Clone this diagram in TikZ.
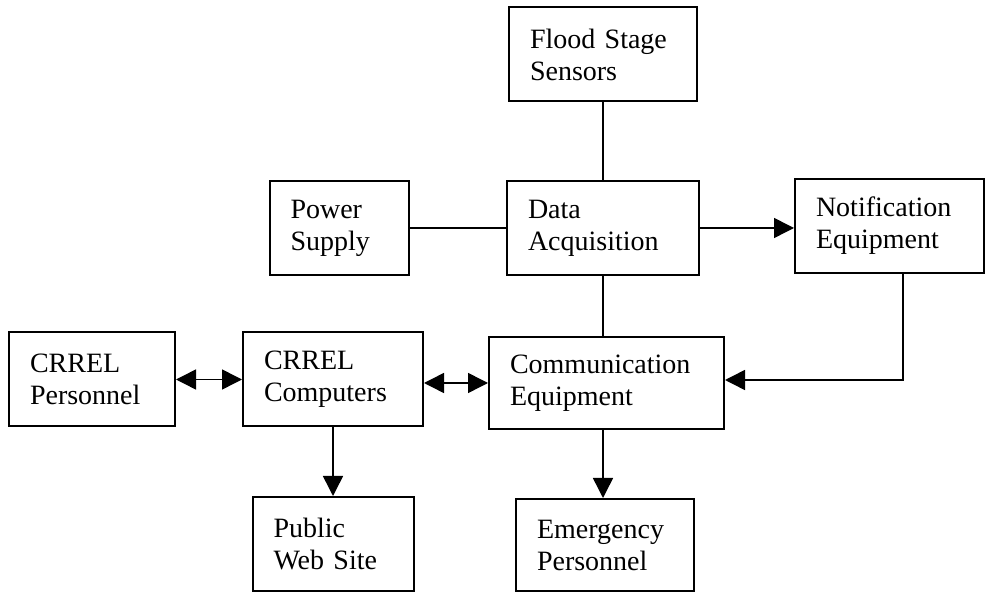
\documentclass[tikz,border=0pt]{standalone}
\usepackage{fontspec}
\setmainfont{Liberation Serif}
\usetikzlibrary{arrows.meta}

\begin{document}
\begin{tikzpicture}
[x=0.5pt, y=-0.5pt,
 blk/.style={draw, line width=1pt, align=left, inner xsep=10.5pt,
   minimum height=47pt, font=\fontsize{14}{16}\selectfont},
 ln/.style={line width=0.75pt},
 arr/.style={ln, -{Triangle[length=10pt,width=10pt]}},
 biarr/.style={ln, {Triangle[length=10pt,width=10pt]}-{Triangle[length=10pt,width=10pt]}}]
\useasboundingbox (0,0) rectangle (985,592);

% top row
\node [blk, text width=73pt] (flood) at (603,54.5) {Flood Stage\\Sensors};
\node [blk, text width=48.5pt] (power) at (339,228) {Power\\Supply};
\node [blk, text width=75pt] (daq) at (603,228) {Data\\Acquisition};
\node [blk, text width=73.5pt] (notif) at (889.5,226) {Notification\\Equipment};

% middle row
\node [blk, text width=62pt] (crrelpers) at (92,379.5) {CRREL\\Personnel};
\node [blk, text width=69pt] (crrelcomp) at (333,379.5) {CRREL\\Computers};
\node [blk, text width=96.5pt, minimum height=46pt] (comm) at (606.5,383) {Communication\\Equipment};

% bottom row
\node [blk, text width=59.5pt] (pubweb) at (333,544) {Public\\Web Site};
\node [blk, text width=68pt, minimum height=46pt] (emerg) at (605,545) {Emergency\\Personnel};

\draw [ln] (flood) -- (daq);
\draw [ln] (power) -- (daq);
\draw [arr] (daq.east) -- (daq.east -| notif.west);
\draw [ln] (daq.south) -- (daq.south |- comm.north);
\draw [arr] ([xshift=6.75pt]notif.south) |- ([yshift=1.5pt]comm.east);

\draw [biarr] (crrelpers) -- (crrelcomp);
\draw [biarr] (comm.west -| crrelcomp.east) -- (comm.west);
\draw [arr] (crrelcomp) -- (pubweb);
\draw [arr] (daq.south |- comm.south) -- (daq.south |- emerg.north);
\end{tikzpicture}
\end{document}
